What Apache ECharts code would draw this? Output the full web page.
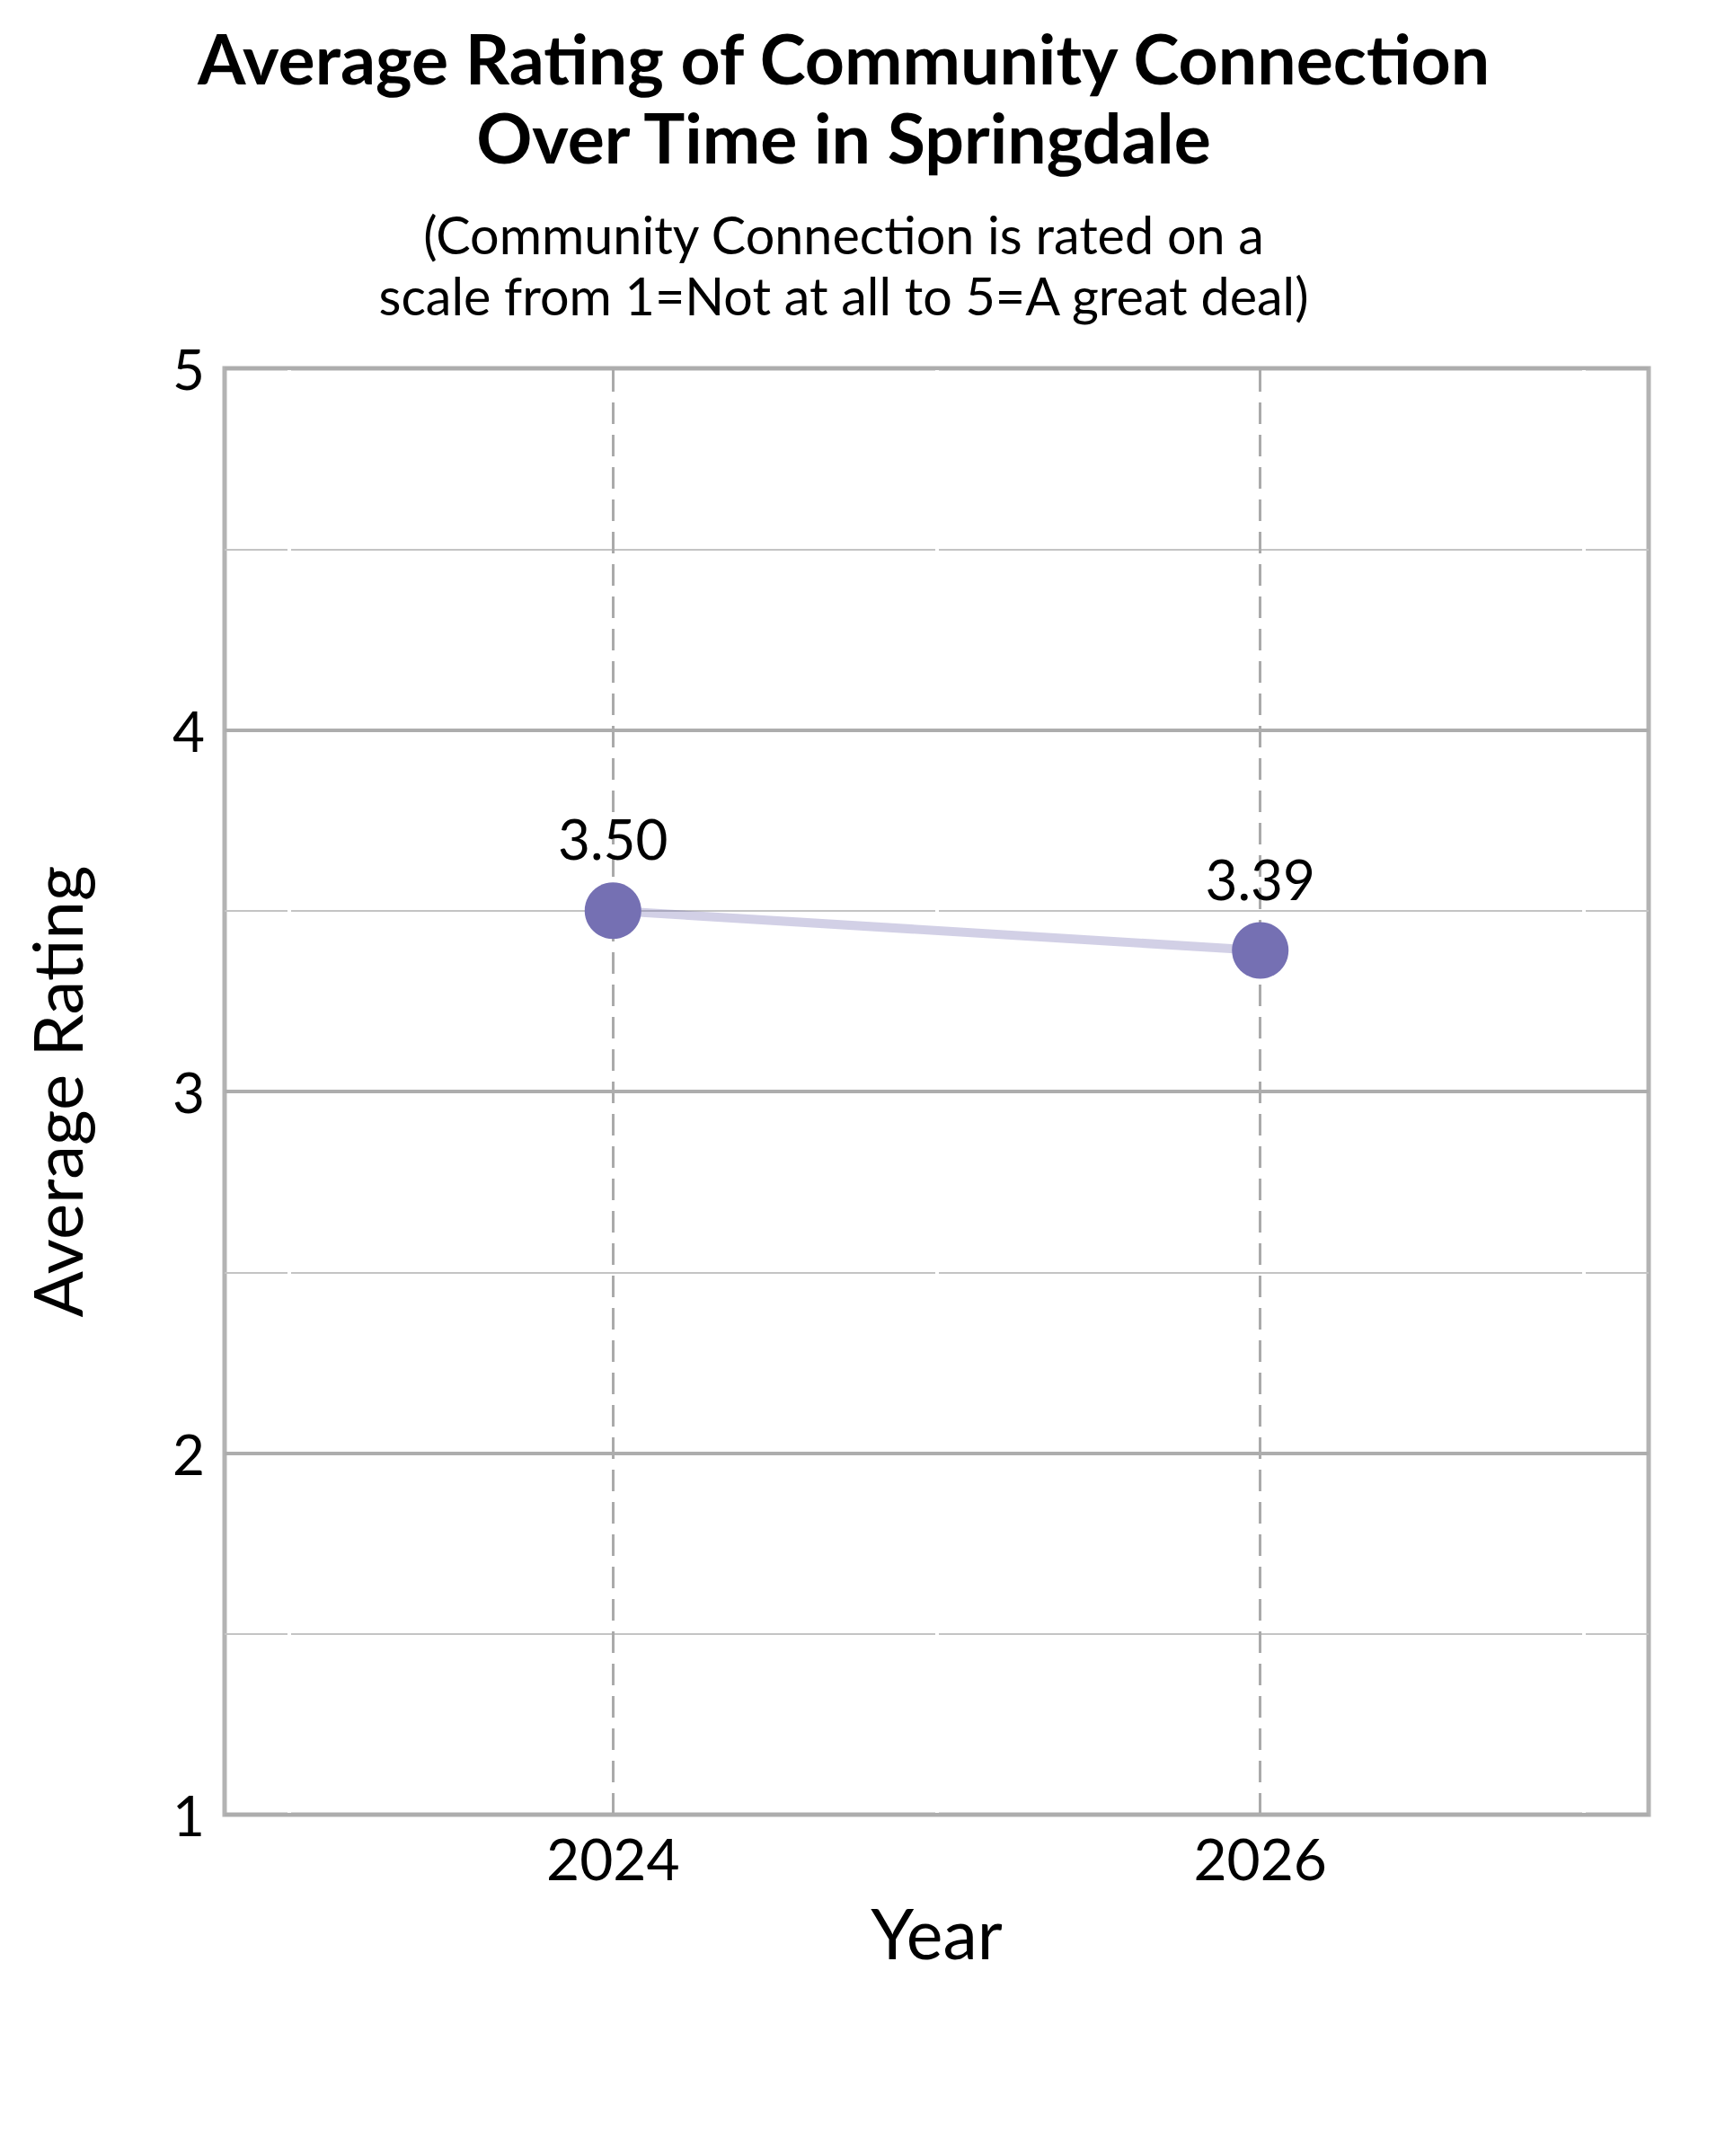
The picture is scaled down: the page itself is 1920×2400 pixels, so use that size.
<!DOCTYPE html>
<html>
<head>
<meta charset="utf-8">
<script src="https://cdn.jsdelivr.net/npm/echarts@6/dist/echarts.min.js"></script>
<style>
html,body{margin:0;padding:0;background:#fff;}
#chart{width:1920px;height:2400px;}
</style>
</head>
<body>
<div id="chart"></div>
<script>
const titleLines = ['Average Rating of Community Connection', 'Over Time in Springdale'];
const subtitleLines = ['(Community Connection is rated on a', 'scale from 1=Not at all to 5=A great deal)'];
const xAxisName = 'Year';
const yAxisName = 'Average Rating';
const years = [2024, 2026];
const ratings = [3.50, 3.39];
const labeledYears = [2024, 2026];
const minorYears = [2023, 2025, 2027];
const xRange = [2022.8, 2027.2];
const yRange = [1, 5];

const FONT = 'Lato';
const chart = echarts.init(document.getElementById('chart'), null, {renderer: 'svg'});

const points = years.map((y, i) => [y, ratings[i]]);

chart.setOption({
  backgroundColor: '#ffffff',
  animation: false,
  title: [
    {
      text: titleLines.join('\n'),
      left: 934, top: 15, textAlign: 'center',
      textStyle: {fontFamily: FONT, fontWeight: 'bold', fontSize: 77, lineHeight: 88, color: '#000'}
    },
    {
      text: subtitleLines.join('\n'),
      left: 934, top: 221, textAlign: 'center',
      textStyle: {fontFamily: FONT, fontWeight: 'normal', fontSize: 57.5, lineHeight: 68, color: '#000'}
    }
  ],
  grid: {
    left: 250, right: 85, top: 410, bottom: 380,
    show: true, borderColor: '#b3b3b3', borderWidth: 5, backgroundColor: 'transparent',
    containLabel: false
  },
  xAxis: {
    type: 'value', min: xRange[0], max: xRange[1],
    name: xAxisName, nameLocation: 'middle', nameGap: 92,
    nameTextStyle: {fontFamily: FONT, fontSize: 77, color: '#000'},
    axisLine: {show: false}, axisTick: {show: false},
    splitLine: {show: false},
    axisLabel: {
      customValues: labeledYears,
      fontFamily: FONT, fontSize: 64, color: '#000', margin: 16,
      formatter: v => String(Math.round(v))
    }
  },
  yAxis: [
    {
      type: 'value', min: yRange[0], max: yRange[1], interval: 1,
      name: yAxisName, nameLocation: 'middle', nameGap: 150, nameRotate: 90,
      nameTextStyle: {fontFamily: FONT, fontSize: 76, color: '#000'},
      axisLine: {show: false}, axisTick: {show: false},
      axisLabel: {fontFamily: FONT, fontSize: 62, color: '#000', margin: 22},
      splitLine: {show: false},
      minorTick: {show: false, splitNumber: 2},
      minorSplitLine: {show: true, lineStyle: {color: '#c4c4c4', width: 2}},
      z: 0
    },
    {
      type: 'value', min: yRange[0], max: yRange[1], interval: 1,
      position: 'left',
      axisLine: {show: false}, axisTick: {show: false}, axisLabel: {show: false},
      splitLine: {show: true, lineStyle: {color: '#adadad', width: 4}},
      z: 3
    }
  ],
  series: [
    {
      type: 'line',
      yAxisIndex: 0,
      data: points,
      z: 10,
      symbol: 'circle',
      symbolSize: 63,
      itemStyle: {color: '#7570b3'},
      lineStyle: {color: 'rgba(117,112,179,0.33)', width: 10},
      label: {
        show: true, position: 'top', distance: 18,
        fontFamily: FONT, fontSize: 62, color: '#000',
        formatter: p => p.value[1].toFixed(2)
      },
      markLine: {
        silent: true, symbol: 'none', z: 2,
        label: {show: false},
        data: [
          ...minorYears.map(y => ({xAxis: y, lineStyle: {color: '#ffffff', width: 4, type: 'solid'}})),
          ...labeledYears.map(y => ({xAxis: y, lineStyle: {color: '#aaaaaa', width: 3, type: [24, 12]}}))
        ]
      }
    }
  ]
});
</script>
</body>
</html>
